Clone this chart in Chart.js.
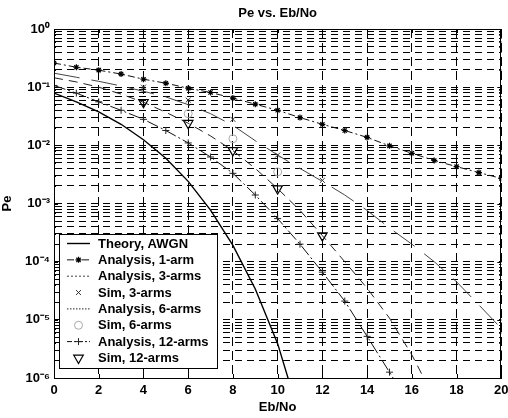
<!DOCTYPE html>
<html>
<head>
<meta charset="utf-8">
<script src="https://cdn.jsdelivr.net/npm/chart.js@4.4.1/dist/chart.umd.min.js"></script>
<style>
  html, body { margin: 0; padding: 0; background: #fff; }
  canvas { display: block; }
</style>
</head>
<body>
<canvas id="pe" width="508" height="418"></canvas>
<script>
// values (Eb/No in dB, Pe)
const theoryEb = [0, 1, 2, 3, 4, 5, 6, 7, 8, 9, 10, 10.5];
const theoryPe = [0.079, 0.056, 0.0375, 0.023, 0.0125, 0.006, 0.0024, 7.7e-4, 1.9e-4, 3.4e-5, 3.9e-6, 9e-7];

const arm1Eb = [0, 1, 2, 3, 4, 5, 6, 7, 8, 9, 10, 11, 12, 13, 14, 15, 16, 17, 18, 19, 20];
const arm1Pe = [0.26, 0.22, 0.196, 0.168, 0.137, 0.117, 0.096, 0.081, 0.065, 0.051, 0.04, 0.03, 0.023, 0.018, 0.0137, 0.0098, 0.0073, 0.0055, 0.0043, 0.0034, 0.0027];

const arm3Eb = [0, 1, 2, 3, 4, 5, 6, 7, 8, 9, 10, 11, 12, 13, 14, 15, 16, 17, 18, 19, 20];
const arm3Pe = [0.174, 0.148, 0.126, 0.105, 0.085, 0.068, 0.05, 0.035, 0.022, 0.012, 0.0068, 0.004, 0.0024, 0.0014, 7.6e-4, 3.8e-4, 2.0e-4, 1.0e-4, 4.5e-5, 1.8e-5, 7.1e-6];
const sim3Eb = [4, 6, 8, 10, 12];
const sim3Pe = [0.1, 0.06, 0.028, 0.0068, 0.0025];

const arm6Eb = [0, 1, 2, 3, 4, 5, 6, 7, 8, 9, 10, 11, 12, 13, 14, 15, 16, 17];
const arm6Pe = [0.145, 0.123, 0.1, 0.076, 0.055, 0.037, 0.024, 0.0145, 0.0081, 0.004, 0.0018, 7.6e-4, 2.8e-4, 1.0e-4, 3.5e-5, 1.07e-5, 2.5e-6, 4.5e-7];
const sim6Eb = [6, 8, 10];
const sim6Pe = [0.035, 0.013, 0.0035];

const arm12Eb = [0, 1, 2, 3, 4, 5, 6, 7, 8, 9, 10, 11, 12, 13, 14, 15, 16];
const arm12Pe = [0.107, 0.079, 0.056, 0.04, 0.028, 0.018, 0.011, 0.0063, 0.0033, 0.0014, 5.5e-4, 2.0e-4, 6.6e-5, 2.1e-5, 5.2e-6, 1.26e-6, 3e-7];
const sim12Eb = [4, 6, 8, 10, 12];
const sim12Pe = [0.055, 0.024, 0.0082, 0.0018, 2.8e-4];

const yDecades = [-6, -5, -4, -3, -2, -1, 0];
const yMinor = [1, 2, 3, 4, 5, 6, 7, 8, 9];
const xStep = 2;

const FONT = "'Liberation Sans', Arial, Helvetica, sans-serif";
const SUP = {'-': '\u207B', '0': '\u2070', '1': '\u00B9', '2': '\u00B2', '3': '\u00B3', '4': '\u2074',
             '5': '\u2075', '6': '\u2076', '7': '\u2077', '8': '\u2078', '9': '\u2079'};

function pts(xs, ys) {
  return xs.map((x, i) => ({x: x, y: ys[i]}));
}

function powLabel(v) {
  const e = Math.log10(v);
  const r = Math.round(e);
  if (Math.abs(e - r) > 1e-6) return '';
  return '10' + String(r).split('').map(c => SUP[c]).join('');
}

let yGrid = [];
yDecades.forEach(d => {
  yMinor.forEach(m => {
    const v = m * Math.pow(10, d);
    if (v <= 1.0000001) yGrid.push(v);
  });
});

// MATLAB style box, inward ticks
const boxFrame = {
  id: 'boxFrame',
  afterDatasetsDraw(chart) {
    const {ctx, chartArea: a} = chart;
    const xs = chart.scales.x, ys = chart.scales.y;
    ctx.save();
    ctx.strokeStyle = '#000';
    ctx.lineWidth = 1;
    ctx.setLineDash([]);
    ctx.strokeRect(Math.round(a.left) + 0.5, Math.round(a.top) + 0.5,
                   Math.round(a.right - a.left) - 1, Math.round(a.bottom - a.top));
    ctx.beginPath();
    xs.ticks.forEach(t => {
      const px = Math.round(xs.getPixelForValue(t.value)) + 0.5;
      ctx.moveTo(px, a.bottom); ctx.lineTo(px, a.bottom - 4);
      ctx.moveTo(px, a.top); ctx.lineTo(px, a.top + 4);
    });
    ys.ticks.forEach(t => {
      const py = Math.round(ys.getPixelForValue(t.value)) + 0.5;
      const len = powLabel(t.value) ? 4 : 2;
      ctx.moveTo(a.left, py); ctx.lineTo(a.left + len, py);
      ctx.moveTo(a.right, py); ctx.lineTo(a.right - len, py);
    });
    ctx.stroke();
    ctx.restore();
  }
};

// legend box in lower left corner, MATLAB style
const boxLegend = {
  id: 'boxLegend',
  afterDraw(chart) {
    const {ctx, chartArea: a} = chart;
    const dsList = chart.data.datasets;
    const w = 158, h = 134;
    const x0 = a.left + 5, y0 = a.bottom - 10 - h;
    const rowH = 16.35;
    ctx.save();
    ctx.fillStyle = '#fff';
    ctx.fillRect(x0, y0, w, h);
    ctx.strokeStyle = '#000';
    ctx.lineWidth = 1;
    ctx.setLineDash([]);
    ctx.strokeRect(Math.round(x0) + 0.5, Math.round(y0) + 0.5, w, h);
    ctx.font = 'bold 13px ' + FONT;
    ctx.textBaseline = 'middle';
    ctx.textAlign = 'left';
    dsList.forEach((ds, i) => {
      const cy = y0 + 9.5 + i * rowH;
      if (ds.showLine !== false) {
        ctx.save();
        ctx.strokeStyle = ds.borderColor;
        ctx.lineWidth = ds.borderWidth;
        ctx.setLineDash(ds.legendDash || ds.borderDash || []);
        ctx.beginPath();
        ctx.moveTo(x0 + 8, cy);
        ctx.lineTo(x0 + 31, cy);
        ctx.stroke();
        ctx.restore();
      }
      if (ds.pointRadius > 0) {
        ctx.save();
        ctx.setLineDash([]);
        ctx.strokeStyle = ds.pointBorderColor || ds.borderColor;
        ctx.fillStyle = ds.pointBackgroundColor || 'rgba(0,0,0,0)';
        ctx.lineWidth = ds.pointBorderWidth || 1;
        Chart.helpers.drawPoint(ctx, {
          pointStyle: ds.pointStyle,
          radius: ds.pointRadius,
          rotation: ds.pointRotation || 0,
          borderWidth: ds.pointBorderWidth || 1
        }, x0 + 19.5, cy);
        ctx.restore();
      }
      ctx.fillStyle = '#000';
      ctx.fillText(ds.label, x0 + 39, cy + 0.5);
    });
    ctx.restore();
  }
};

const datasets = [
  {label: 'Theory, AWGN', data: pts(theoryEb, theoryPe), borderColor: '#000', borderWidth: 1.4,
   pointRadius: 0},
  {label: 'Analysis, 1-arm', data: pts(arm1Eb, arm1Pe), borderColor: '#111', borderWidth: 1,
   borderDash: [7, 3, 2, 3], pointStyle: 'star', pointRadius: 3, pointBorderColor: '#000',
   pointBorderWidth: 1.2},
  {label: 'Analysis, 3-arms', data: pts(arm3Eb, arm3Pe), borderColor: '#444', borderWidth: 1,
   borderDash: [26, 12], legendDash: [2, 2], pointRadius: 0},
  {label: 'Sim, 3-arms', data: pts(sim3Eb, sim3Pe), showLine: false, borderColor: '#333',
   pointStyle: 'crossRot', pointRadius: 3.5, pointBorderColor: '#333', pointBorderWidth: 1},
  {label: 'Analysis, 6-arms', data: pts(arm6Eb, arm6Pe), borderColor: '#222', borderWidth: 1,
   borderDash: [9, 6], legendDash: [1.5, 1.5], pointRadius: 0},
  {label: 'Sim, 6-arms', data: pts(sim6Eb, sim6Pe), showLine: false, borderColor: '#999',
   pointStyle: 'circle', pointRadius: 4, pointBorderColor: '#aaa',
   pointBackgroundColor: 'rgba(0,0,0,0)', pointBorderWidth: 1},
  {label: 'Analysis, 12-arms', data: pts(arm12Eb, arm12Pe), borderColor: '#111', borderWidth: 1,
   borderDash: [12, 3, 2, 3], legendDash: [5, 2, 2, 2], pointStyle: 'cross', pointRadius: 3.5,
   pointBorderColor: '#222', pointBorderWidth: 1},
  {label: 'Sim, 12-arms', data: pts(sim12Eb, sim12Pe), showLine: false, borderColor: '#000',
   pointStyle: 'triangle', pointRotation: 180, pointRadius: 5.5, pointBorderColor: '#000',
   pointBackgroundColor: 'rgba(0,0,0,0)', pointBorderWidth: 1.2}
];

new Chart(document.getElementById('pe').getContext('2d'), {
  type: 'line',
  data: {datasets: datasets},
  options: {
    responsive: false,
    animation: false,
    devicePixelRatio: 1,
    layout: {padding: {left: 0, right: 4, top: 0, bottom: 0}},
    elements: {line: {tension: 0, fill: false}},
    plugins: {
      legend: {display: false},
      tooltip: {enabled: false},
      title: {
        display: true,
        text: 'Pe vs. Eb/No',
        fullSize: false,
        color: '#000',
        font: {family: FONT, size: 13, weight: 'bold', lineHeight: 1.2},
        padding: {top: 6, bottom: 7.4}
      }
    },
    scales: {
      x: {
        type: 'linear',
        min: 0,
        max: 20,
        ticks: {stepSize: xStep, color: '#000', padding: 5,
                font: {family: FONT, size: 13, weight: 'bold'}},
        grid: {color: '#000', lineWidth: 1, drawTicks: false},
        border: {display: true, color: '#000', width: 1, dash: [9, 5]},
        title: {display: true, text: 'Eb/No', color: '#000', padding: {top: 0, bottom: 3.2},
                font: {family: FONT, size: 13, weight: 'bold', lineHeight: 1.2}},
        afterFit(scale) {
          scale.height = 40;
          scale.paddingLeft = 0;
          scale.paddingRight = 0;
        }
      },
      y: {
        type: 'logarithmic',
        min: 1e-6,
        max: 1,
        afterBuildTicks(scale) {
          scale.ticks = yGrid.map(v => ({value: v}));
        },
        ticks: {
          autoSkip: false,
          color: '#000',
          padding: 4,
          font: {family: FONT, size: 13, weight: 'bold'},
          callback: (v) => powLabel(v)
        },
        grid: {color: '#000', lineWidth: 1, drawTicks: false},
        border: {display: true, color: '#000', width: 1, dash: [7, 5]},
        title: {display: true, text: 'Pe', color: '#000', padding: {top: 0, bottom: 0},
                font: {family: FONT, size: 13, weight: 'bold', lineHeight: 1.2}},
        afterFit(scale) {
          scale.width = 54;
          scale.paddingTop = 0;
          scale.paddingBottom = 0;
        }
      }
    }
  },
  plugins: [boxFrame, boxLegend]
});
</script>
</body>
</html>
